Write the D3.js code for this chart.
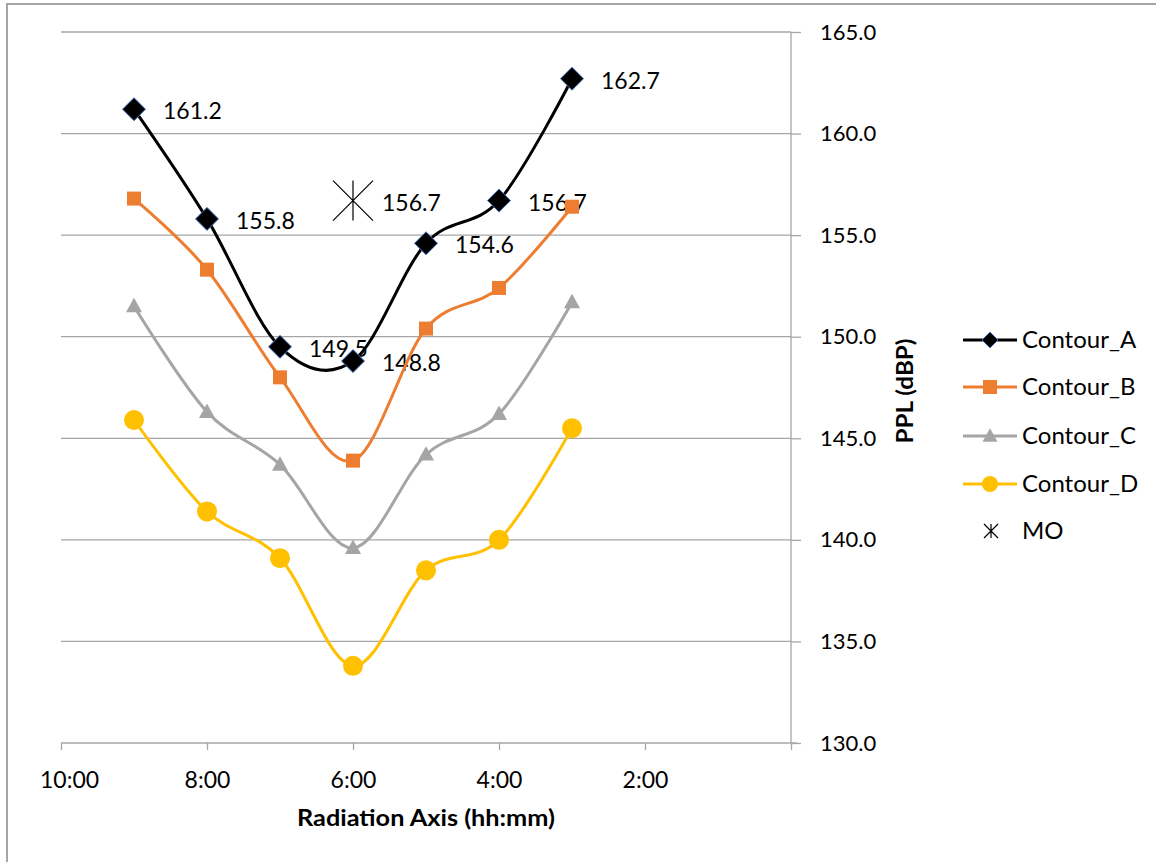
<!DOCTYPE html>
<html><head><meta charset="utf-8">
<script src="https://cdn.jsdelivr.net/npm/d3@7"></script>
<style>body{margin:0;background:#fff}svg{display:block}text{font-family:Lato,"Open Sans",sans-serif}</style>
</head><body><svg id="c" width="1156" height="862"></svg>
<script>
const hours = [9, 8, 7, 6, 5, 4, 3];
const contourA = [161.2, 155.8, 149.5, 148.8, 154.6, 156.7, 162.7];
const contourB = [156.8, 153.3, 148.0, 143.9, 150.4, 152.4, 156.4];
const contourC = [151.5, 146.3, 143.7, 139.6, 144.2, 146.2, 151.7];
const contourD = [145.9, 141.4, 139.1, 133.8, 138.5, 140.0, 145.5];
const moHour = 6, moValue = 156.7;
const xTickValues = [10, 8, 6, 4, 2, 0];
const xTickLabels = ["10:00", "8:00", "6:00", "4:00", "2:00", ""];
const yTickValues = [130, 135, 140, 145, 150, 155, 160, 165];
const seriesNames = ["Contour_A", "Contour_B", "Contour_C", "Contour_D", "MO"];

const svg = d3.select("#c");
const x = d3.scaleLinear().domain([10, 0]).range([61, 791]);
const y = d3.scaleLinear().domain([130, 165]).range([743, 32]);

// chart border
svg.append("rect").attr("x", 7).attr("y", 4).attr("width", 1160).attr("height", 870)
  .attr("fill", "none").attr("stroke", "#a6a6a6").attr("stroke-width", 2);

// gridlines
svg.append("g").selectAll("line").data(yTickValues.slice(1)).join("line")
  .attr("x1", x(10)).attr("x2", x(0)).attr("y1", d => y(d)).attr("y2", d => y(d))
  .attr("stroke", "#a6a6a6").attr("stroke-width", 1.3);

// y axis (right)
const yAxis = d3.axisRight(y).tickValues(yTickValues).tickFormat(d3.format(".1f")).tickSize(10).tickPadding(19);
const gy = svg.append("g").attr("transform", `translate(${x(0)},0)`).call(yAxis);
gy.select(".domain").attr("stroke", "#a6a6a6").attr("stroke-width", 1.3).attr("d", `M0,${y(165)}V${y(130)}`);
gy.selectAll(".tick line").attr("stroke", "#a6a6a6").attr("stroke-width", 1.3);
gy.selectAll(".tick text").attr("font-size", 22).attr("fill", "#000").attr("font-family", "Lato");

// x axis
const xAxis = d3.axisBottom(x).tickValues(xTickValues).tickFormat((d, i) => xTickLabels[i]).tickSize(7).tickPadding(22);
const gx = svg.append("g").attr("transform", `translate(0,${y(130)})`).call(xAxis);
gx.select(".domain").attr("stroke", "#a6a6a6").attr("stroke-width", 1.3).attr("d", `M${x(10)},0H${x(0)+6}`);
gx.selectAll(".tick line").attr("stroke", "#a6a6a6").attr("stroke-width", 1.3);
gx.selectAll(".tick text").attr("font-size", 23).attr("fill", "#000").attr("font-family", "Lato");
gx.selectAll(".tick text").filter(d => d === 10).attr("dx", 8);

// axis titles
svg.append("text").attr("x", 426).attr("y", 826).attr("text-anchor", "middle")
  .attr("font-size", 22).attr("font-weight", "bold")
  .attr("textLength", 258).attr("lengthAdjust", "spacingAndGlyphs").text("Radiation Axis (hh:mm)");
svg.append("text").attr("transform", "translate(913,391) rotate(-90)").attr("text-anchor", "middle")
  .attr("font-size", 22).attr("font-weight", "bold")
  .attr("textLength", 105).attr("lengthAdjust", "spacingAndGlyphs").text("PPL (dBP)");

// data labels (drawn under series)
const labels = hours.map((h, i) => ({h, v: contourA[i]})).concat([{h: moHour, v: moValue}]);
svg.append("g").selectAll("text").data(labels).join("text")
  .attr("x", d => x(d.h) + 29).attr("y", d => y(d.v) + 2).attr("dy", "0.35em")
  .attr("font-size", 23).text(d => d3.format(".1f")(d.v));

const line = d3.line().x(d => x(d[0])).y(d => y(d[1])).curve(d3.curveCardinal.tension(0));
const series = [
  {name: "Contour_A", vals: contourA, color: "#000000", marker: "diamond"},
  {name: "Contour_B", vals: contourB, color: "#ED7D31", marker: "square"},
  {name: "Contour_C", vals: contourC, color: "#A5A5A5", marker: "triangle"},
  {name: "Contour_D", vals: contourD, color: "#FFC000", marker: "circle"}
];

function drawMarker(g, type, cx, cy, color, s) {
  if (type === "diamond") {
    g.append("path").attr("d", `M${cx},${cy-s}L${cx+s},${cy}L${cx},${cy+s}L${cx-s},${cy}Z`)
      .attr("fill", "#000").attr("stroke", "#4472C4").attr("stroke-width", 1);
  } else if (type === "square") {
    g.append("rect").attr("x", cx - s).attr("y", cy - s).attr("width", 2*s).attr("height", 2*s).attr("fill", color);
  } else if (type === "triangle") {
    g.append("path").attr("d", `M${cx},${cy-s*1.05}L${cx+s},${cy+s*0.75}L${cx-s},${cy+s*0.75}Z`).attr("fill", color);
  } else if (type === "circle") {
    g.append("circle").attr("cx", cx).attr("cy", cy).attr("r", s).attr("fill", color);
  } else if (type === "star") {
    g.append("path").attr("d", `M${cx-s},${cy-s}L${cx+s},${cy+s}M${cx+s},${cy-s}L${cx-s},${cy+s}M${cx},${cy-s}V${cy+s}`)
      .attr("stroke", "#000").attr("stroke-width", 1.2).attr("fill", "none");
  }
}

const sizes = {diamond: 11.5, square: 7, triangle: 8, circle: 10};
series.slice().reverse().forEach(s => {
  const g = svg.append("g");
  const pts = hours.map((h, i) => [h, s.vals[i]]);
  g.append("path").attr("d", line(pts)).attr("fill", "none").attr("stroke", s.color).attr("stroke-width", 3);
  pts.forEach(p => drawMarker(g, s.marker, x(p[0]), y(p[1]), s.color, sizes[s.marker]));
});
drawMarker(svg.append("g"), "star", x(moHour), y(moValue), "#000", 20);

// legend
const legY = [340, 387, 436, 484, 531];
const legSizes = {diamond: 8, square: 7, triangle: 7.5, circle: 8};
const lg = svg.append("g");
series.forEach((s, i) => {
  lg.append("line").attr("x1", 963).attr("x2", 1017).attr("y1", legY[i]).attr("y2", legY[i])
    .attr("stroke", s.color).attr("stroke-width", 3);
  drawMarker(lg, s.marker, 990, legY[i], s.color, legSizes[s.marker]);
  lg.append("text").attr("x", 1022).attr("y", legY[i]).attr("dy", "0.35em").attr("font-size", 24).text(s.name);
});
drawMarker(lg, "star", 991, legY[4], "#000", 7);
lg.append("text").attr("x", 1022).attr("y", legY[4]).attr("dy", "0.35em").attr("font-size", 24).text(seriesNames[4]);
</script></body></html>
